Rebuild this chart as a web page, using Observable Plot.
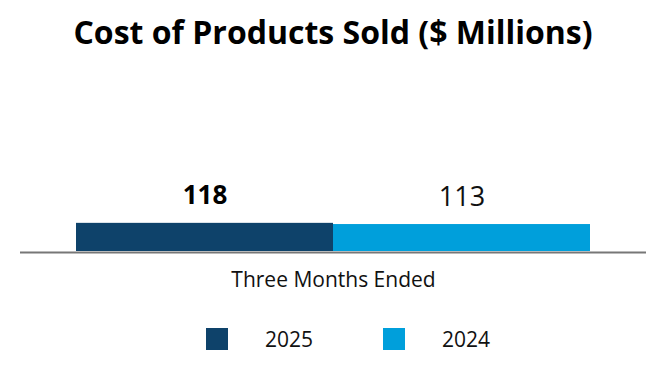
<!DOCTYPE html>
<html>
<head>
<meta charset="utf-8">
<script src="https://cdn.jsdelivr.net/npm/d3@7"></script>
<script src="https://cdn.jsdelivr.net/npm/@observablehq/plot@0.6"></script>
<style>
  html, body { margin: 0; padding: 0; background: #fff; }
  body { width: 666px; height: 380px; overflow: hidden; font-family: "Open Sans", sans-serif; }
  #title { height: 64px; line-height: 64px; text-align: center; font-weight: 700; font-size: 32px; color: #000; }
  #legend { display: flex; justify-content: center; align-items: center; font-size: 21px; color: #111; margin-top: 25px; padding-left: 30px; }
  .item { display: flex; align-items: center; }
  .sw { width: 22px; height: 22px; display: inline-block; }
</style>
</head>
<body>
<div id="title">Cost of Products Sold ($ Millions)</div>
<div id="chart"></div>
<div id="legend"></div>
<script>
const years = ["2025", "2024"];
const values = [118, 113];
const colors = ["#0E426A", "#009FDB"];
const categoryLabel = "Three Months Ended";

const data = years.map((y, i) => ({year: y, value: values[i], bold: i === 0}));

const chart = Plot.plot({
  width: 666,
  height: 236,
  marginLeft: 76,
  marginRight: 76,
  marginTop: 20,
  marginBottom: 49,
  style: {fontFamily: "Open Sans, sans-serif", background: "#fff"},
  x: {type: "band", domain: years, padding: 0, axis: null},
  y: {domain: [0, 700], axis: null},
  color: {domain: years, range: colors},
  marks: [
    Plot.barY(data, {x: "year", y: "value", fill: "year"}),
    Plot.ruleY([0], {stroke: "#777", strokeWidth: 2, insetLeft: -56, insetRight: -56, dy: 1}),
    Plot.text(data.filter(d => d.bold), {x: "year", y: "value", text: d => String(d.value), lineAnchor: "bottom", dy: -19, fontSize: 26, fontWeight: 700, fill: "#000"}),
    Plot.text(data.filter(d => !d.bold), {x: "year", y: "value", text: d => String(d.value), lineAnchor: "bottom", dy: -19, fontSize: 27, fontWeight: 400, fill: "#111"}),
    Plot.text([categoryLabel], {frameAnchor: "bottom", text: d => d, lineAnchor: "bottom", dy: 35, fontSize: 21, fill: "#111"})
  ]
});
document.getElementById("chart").appendChild(chart);

const legend = document.getElementById("legend");
years.forEach((y, i) => {
  const item = document.createElement("div");
  item.className = "item";
  item.style.marginLeft = i === 0 ? "0" : "70px";
  const sw = document.createElement("span");
  sw.className = "sw";
  sw.style.background = colors[i];
  const lab = document.createElement("span");
  lab.textContent = y;
  lab.style.marginLeft = "37px";
  item.appendChild(sw);
  item.appendChild(lab);
  legend.appendChild(item);
});
</script>
</body>
</html>
